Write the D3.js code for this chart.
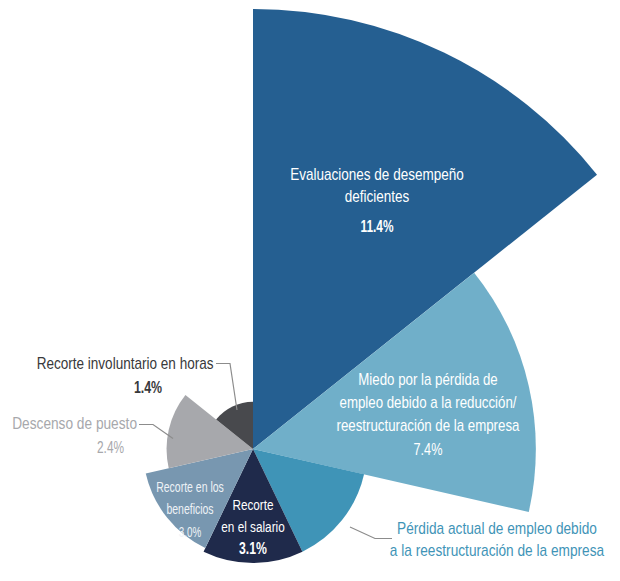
<!DOCTYPE html>
<html>
<head>
<meta charset="utf-8">
<script src="https://cdn.jsdelivr.net/npm/d3@7"></script>
<style>
  body { margin: 0; background: #fff; }
  svg text { font-family: "Liberation Sans", Arial, sans-serif; }
</style>
</head>
<body>
<div id="chart"></div>
<script>
// categories clockwise from 12 o'clock
const categories = [
  "Evaluaciones de desempeño deficientes",
  "Miedo por la pérdida de empleo debido a la reducción/reestructuración de la empresa",
  "Pérdida actual de empleo debido a la reestructuración de la empresa",
  "Recorte en el salario",
  "Recorte en los beneficios",
  "Descenso de puesto",
  "Recorte involuntario en horas"
];
const values = [11.4, 7.4, 3.1, 3.1, 3.0, 2.4, 1.4];
const valueLabels = ["11.4%", "7.4%", "", "3.1%", "3.0%", "2.4%", "1.4%"];
const colors = ["#255f91", "#70afc9", "#3f94b7", "#1f2a4b", "#7897b0", "#a7a8ac", "#48494d"];

(function(){
  const width = 620, height = 581;
  const cx = 253, cy = 449;

  const svg = d3.select("#chart")
    .append("svg")
    .attr("width", width)
    .attr("height", height);

  const g = svg.append("g")
    .attr("transform", `translate(${cx},${cy})`);

  // equal angles, radius follows the value
  const angle = d3.scaleBand()
    .domain(categories)
    .range([0, 2 * Math.PI]);

  const r = d3.scaleLinear()
    .domain([0.2, 11.4])
    .range([0, 440]);

  const arc = d3.arc()
    .innerRadius(0)
    .outerRadius(d => r(d.value))
    .startAngle(d => angle(d.cat))
    .endAngle(d => angle(d.cat) + angle.bandwidth());

  const data = categories.map((c, i) => ({ cat: c, value: values[i], color: colors[i], label: valueLabels[i] }));

  g.selectAll("path")
    .data(data)
    .enter()
    .append("path")
    .attr("d", arc)
    .attr("fill", d => d.color);

  // leader lines for outside labels
  const leaders = [
    [[216, 363.5], [230, 363.5], [237, 410]],
    [[139, 424.5], [153, 424.5], [173, 438.5]],
    [[392, 538.5], [375, 538.5], [350, 527]]
  ];
  svg.selectAll("polyline")
    .data(leaders)
    .enter()
    .append("polyline")
    .attr("points", d => d.map(p => p.join(",")).join(" "))
    .attr("fill", "none")
    .attr("stroke", "#8c8c8c")
    .attr("stroke-width", 1.2);

  // narrow text: the font is squeezed horizontally
  function put(x, y, s, o) {
    svg.append("text")
      .attr("transform", `translate(${x},${y}) scale(${o.sx},1)`)
      .attr("text-anchor", o.anchor || "middle")
      .attr("fill", o.fill)
      .attr("font-size", o.size)
      .attr("font-weight", o.weight || "normal")
      .text(s);
  }

  const labels = [
    { x: 377, y: [180, 202], lines: ["Evaluaciones de desempeño", "deficientes"],
      fill: "#fff", size: 16, sx: 0.845, val: 0, vx: 377, vy: 232, vsize: 16.5, vsx: 0.72, vweight: "bold" },
    { x: 428, y: [385, 408, 431], lines: ["Miedo por la pérdida de", "empleo debido a la reducción/", "reestructuración de la empresa"],
      fill: "#fff", size: 16, sx: 0.83, val: 1, vx: 428, vy: 455, vsize: 16.5, vsx: 0.77 },
    { x: 497, y: [534, 556], lines: ["Pérdida actual de empleo debido", "a la reestructuración de la empresa"],
      fill: "#3f94b7", size: 16, sx: 0.855 },
    { x: 253, y: [510, 532], lines: ["Recorte", "en el salario"],
      fill: "#fff", size: 15.5, sx: 0.76, val: 3, vx: 253, vy: 553.5, vsize: 17, vsx: 0.72, vweight: "bold" },
    { x: 190, y: [491.5, 513.5], lines: ["Recorte en los", "beneficios"],
      fill: "#eef2f6", size: 14, sx: 0.75, val: 4, vx: 190, vy: 537, vsize: 14.5, vsx: 0.68 },
    { x: 137, y: [429], lines: ["Descenso de puesto"], anchor: "end",
      fill: "#a7a8ac", size: 16, sx: 0.857, val: 5, vx: 110.5, vy: 452.5, vsize: 16.5, vsx: 0.72 },
    { x: 213.5, y: [369], lines: ["Recorte involuntario en horas"], anchor: "end",
      fill: "#38393b", size: 16, sx: 0.847, val: 6, vx: 148, vy: 392.5, vsize: 16.5, vsx: 0.75, vweight: "bold" }
  ];

  labels.forEach(l => {
    l.lines.forEach((s, i) => put(l.x, l.y[i], s, { sx: l.sx, anchor: l.anchor, fill: l.fill, size: l.size }));
    if (l.val !== undefined) {
      put(l.vx, l.vy, data[l.val].label, { sx: l.vsx, fill: l.fill, size: l.vsize, weight: l.vweight });
    }
  });
})();
</script>
</body>
</html>
